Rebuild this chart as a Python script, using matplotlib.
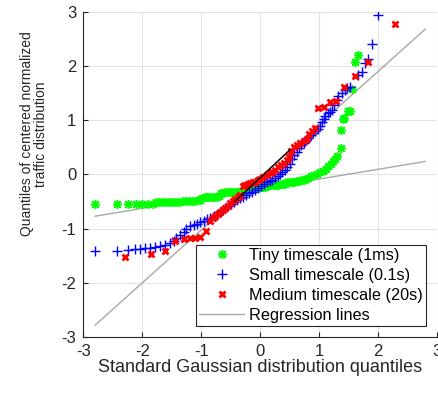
import matplotlib
matplotlib.use('Agg')
import matplotlib.pyplot as plt

# fonts: Helvetica-like look, plain hyphen for negative ticks
plt.rcParams['font.family'] = ['Liberation Sans', 'DejaVu Sans']
plt.rcParams['axes.unicode_minus'] = False

# Tiny timescale (1ms): theoretical quantile / sample quantile
tiny_x = [-2.80, -2.43, -2.24, -2.11, -2.00, -1.91, -1.82,
          -1.76, -1.71, -1.66, -1.61, -1.56, -1.51, -1.46, -1.41, -1.36, -1.31,
          -1.26, -1.21, -1.16, -1.11, -1.06, -1.02,
          -0.98, -0.94, -0.90, -0.86, -0.82, -0.78, -0.74, -0.70,
          -0.67, -0.63, -0.59, -0.55, -0.51, -0.47, -0.43, -0.39, -0.35, -0.31, -0.27,
          -0.23, -0.19, -0.15, -0.11, -0.07, -0.03, 0.01, 0.05, 0.09, 0.12,
          0.15, 0.19, 0.23, 0.27, 0.31, 0.35, 0.39, 0.42,
          0.46, 0.50, 0.54, 0.58, 0.62, 0.66, 0.70, 0.74, 0.78,
          0.82, 0.87, 0.92, 0.97, 1.02, 1.07, 1.12, 1.16, 1.20, 1.24, 1.27, 1.30,
          1.37, 1.38, 1.40, 1.43, 1.50, 1.53, 1.56, 1.61, 1.67]
tiny_y = [-0.55, -0.55, -0.55, -0.55, -0.55, -0.54, -0.54,
          -0.51, -0.51, -0.50, -0.50, -0.50, -0.50, -0.50, -0.50, -0.50, -0.49,
          -0.49, -0.49, -0.49, -0.49, -0.48, -0.47,
          -0.43, -0.42, -0.42, -0.42, -0.41, -0.41, -0.41, -0.40,
          -0.35, -0.34, -0.33, -0.33, -0.33, -0.33, -0.32, -0.32, -0.32, -0.31, -0.30,
          -0.27, -0.26, -0.25, -0.25, -0.25, -0.25, -0.24, -0.24, -0.23, -0.22,
          -0.20, -0.19, -0.19, -0.19, -0.19, -0.18, -0.18, -0.17,
          -0.14, -0.13, -0.13, -0.13, -0.12, -0.12, -0.11, -0.10, -0.09,
          -0.06, -0.03, -0.01, 0.01, 0.04, 0.07, 0.11, 0.15, 0.19, 0.24, 0.29, 0.34,
          0.48, 0.82, 1.02, 1.04, 1.17, 1.17, 1.58, 2.07, 2.21]

# Small timescale (0.1s)
small_x = [-2.80, -2.43, -2.25, -2.12, -2.04, -1.95, -1.87, -1.78, -1.70, -1.61,
           -1.53, -1.47, -1.42, -1.36, -1.30, -1.25, -1.19, -1.13, -1.07, -1.02,
           -0.96, -0.90, -0.85, -0.79, -0.74, -0.68, -0.63, -0.59, -0.54, -0.49,
           -0.44, -0.39, -0.34, -0.29, -0.24, -0.19, -0.14, -0.09, -0.04, 0.01,
           0.06, 0.11, 0.16, 0.20, 0.25, 0.30, 0.34, 0.38, 0.42, 0.46,
           0.50, 0.54, 0.58, 0.62, 0.66, 0.70, 0.74, 0.78, 0.82, 0.86,
           0.90, 0.94, 0.98, 1.02, 1.05, 1.08, 1.11, 1.15, 1.19, 1.22,
           1.26, 1.30, 1.33, 1.39, 1.44, 1.48, 1.53, 1.67, 1.73, 1.78,
           1.84, 1.90, 2.00]
small_y = [-1.41, -1.41, -1.39, -1.38, -1.37, -1.36, -1.35, -1.33, -1.32, -1.30,
           -1.27, -1.23, -1.18, -1.12, -1.06, -1.01, -0.96, -0.93, -0.91, -0.88,
           -0.86, -0.83, -0.80, -0.77, -0.74, -0.70, -0.66, -0.62, -0.58, -0.54,
           -0.50, -0.47, -0.44, -0.41, -0.38, -0.35, -0.32, -0.29, -0.25, -0.21,
           -0.17, -0.14, -0.12, -0.10, -0.07, -0.03, 0.00, 0.04, 0.09, 0.14,
           0.20, 0.28, 0.36, 0.42, 0.48, 0.54, 0.59, 0.63, 0.68, 0.73,
           0.77, 0.80, 0.84, 0.90, 0.96, 1.02, 1.08, 1.13, 1.16, 1.19,
           1.28, 1.38, 1.44, 1.50, 1.56, 1.59, 1.62, 1.84, 1.90, 2.05,
           2.13, 2.41, 2.94]

# Medium timescale (20s)
medium_x = [-2.30, -1.86, -1.61, -1.44, -1.30, -1.19, -1.10, -1.02, -0.92, -0.85,
            -0.80, -0.76, -0.72, -0.68, -0.63, -0.59, -0.55, -0.51, -0.46, -0.42,
            -0.38, -0.34, -0.29, -0.25, -0.21, -0.17, -0.12, -0.08, -0.04, 0.00,
            0.05, 0.11, 0.16, 0.20, 0.25, 0.31, 0.36, 0.40, 0.45, 0.49,
            0.52, 0.57, 0.62, 0.68, 0.74, 0.79, 0.83, 0.88, 0.94, 0.99,
            1.08, 1.19, 1.29, 1.43, 1.61, 1.84, 2.29]
medium_y = [-1.52, -1.47, -1.42, -1.23, -1.20, -1.18, -1.17, -1.16, -1.05, -0.85,
            -0.80, -0.77, -0.73, -0.70, -0.66, -0.62, -0.58, -0.53, -0.49, -0.45,
            -0.41, -0.38, -0.21, -0.19, -0.17, -0.16, -0.14, -0.13, -0.11, -0.09,
            -0.05, -0.01, 0.02, 0.05, 0.09, 0.14, 0.18, 0.21, 0.27, 0.33,
            0.44, 0.51, 0.55, 0.59, 0.62, 0.66, 0.75, 0.81, 0.85, 1.22,
            1.25, 1.33, 1.36, 1.62, 1.82, 2.08, 2.78]

# regression lines (end points) and the quartile segment
reg_x = [-2.8, 2.8]
reg_steep_y = [-2.78, 2.68]
reg_tiny_y = [-0.77, 0.24]
quart_x = [-0.43, 0.51]
quart_y = [-0.50, 0.46]

ticks = [-3, -2, -1, 0, 1, 2, 3]

fig = plt.figure(figsize=(4.39, 3.93), dpi=100)
ax = fig.add_axes([0.190, 0.1425, 0.805, 0.827])

gray = '#a8a8a8'
ax.plot(reg_x, reg_steep_y, color=gray, lw=1.0, zorder=1)
ax.plot(reg_x, reg_tiny_y, color=gray, lw=1.0, zorder=1)

ax.plot(tiny_x, tiny_y, ls='none', marker=(8, 2, 0), ms=6.5, mew=1.1,
        color='#00ff00', zorder=2, label='Tiny timescale (1ms)')
ax.plot(small_x, small_y, ls='none', marker='+', ms=7, mew=1.0,
        color='#0000ff', zorder=3, label='Small timescale (0.1s)')
ax.plot(medium_x, medium_y, ls='none', marker='x', ms=5, mew=2.0,
        color='#ff0000', zorder=4, label='Medium timescale (20s)')
ax.plot(quart_x, quart_y, color='black', lw=1.0, zorder=5)

# legend handle for regression lines
ax.plot([], [], color=gray, lw=1.0, label='Regression lines')

ax.set_xlim(-3, 3)
ax.set_ylim(-3, 3)
ax.set_xticks(ticks)
ax.set_yticks(ticks)
ax.grid(True, color='#e3e3e3', lw=0.8)
ax.set_axisbelow(True)
for s in ['top', 'right']:
    ax.spines[s].set_visible(False)
for s in ['left', 'bottom']:
    ax.spines[s].set_color('#262626')
    ax.spines[s].set_linewidth(0.8)
ax.tick_params(direction='in', length=3.5, width=0.8, colors='#262626',
               labelsize=12, pad=5)

ax.set_xlabel('Standard Gaussian distribution quantiles', fontsize=13,
              color='#262626', labelpad=0)
ax.set_ylabel('Quantiles of centered normalized\ntraffic distribution',
              fontsize=10, color='#262626', linespacing=1.05)
ax.yaxis.set_label_coords(-0.100, 0.625)

leg = ax.legend(loc='lower right', bbox_to_anchor=(0.969, 0.034),
                fontsize=11.7, frameon=True, fancybox=False, framealpha=1,
                edgecolor='#262626', handlelength=2.75, handletextpad=0.3,
                borderpad=0.2, labelspacing=0.3, borderaxespad=0)
leg.get_frame().set_linewidth(0.8)

fig.savefig('out.png', dpi=100)
